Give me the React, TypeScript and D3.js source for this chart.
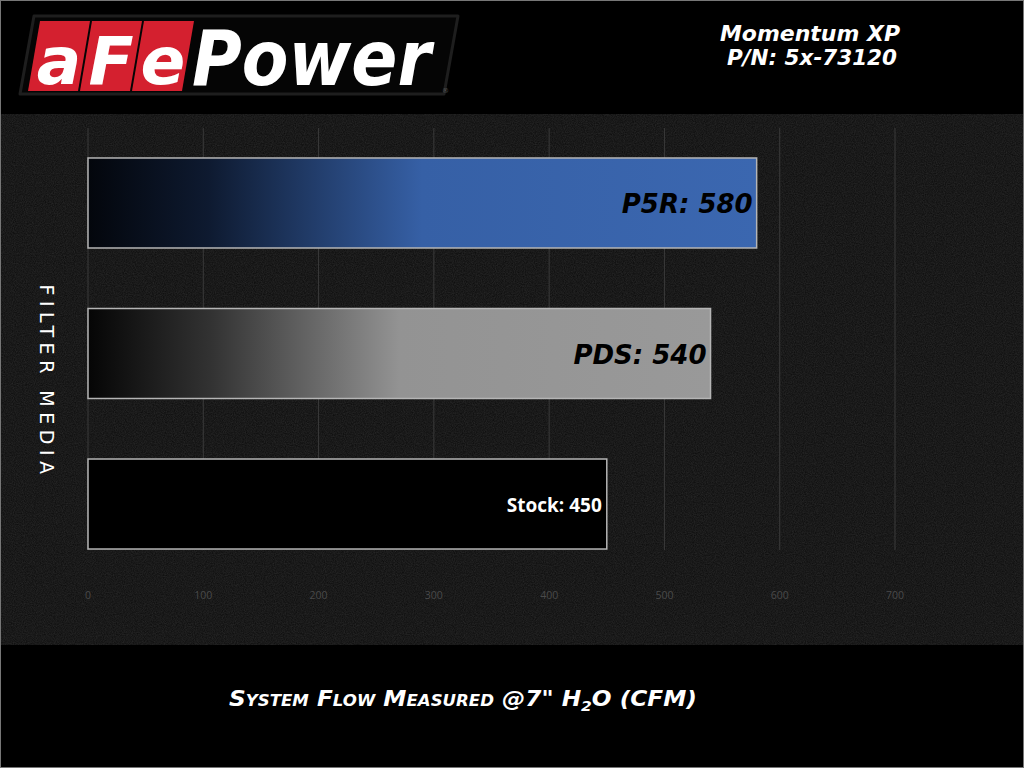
import React from "react";
import * as d3 from "d3";

const categories = ["P5R", "PDS", "Stock"];
const values = [580, 540, 450];
const barLabels = ["P5R: 580", "PDS: 540", "Stock: 450"];
const tickValues = [0, 100, 200, 300, 400, 500, 600, 700];
const titleLines = ["Momentum XP", "P/N: 5x-73120"];
const yTitle = "FILTER MEDIA";
const logoLetters = ["a", "F", "e"];

const W = 1024;
const H = 768;

export default function App() {
  const x = d3.scaleLinear().domain([0, 700]).range([88, 895]);
  const y = d3.scaleBand<string>().domain(categories).range([133, 574]).paddingInner(0.402).paddingOuter(0.166);
  const gridTop = 128;
  const gridBottom = 550;
  const fills = ["url(#gBlue)", "url(#gGrey)", "#000"];
  const titleFont = "'DejaVu Sans', sans-serif";

  const skew = (px: number, py: number, w: number, h: number, s: number) =>
    `M${px + s},${py} L${px + w + s},${py} L${px + w},${py + h} L${px},${py + h} Z`;

  return (
    <svg width={W} height={H} style={{ position: "absolute", left: 0, top: 0, display: "block" }}>
      <defs>
        <filter id="noise" x="0" y="0" width="100%" height="100%">
          <feTurbulence type="fractalNoise" baseFrequency="0.9" numOctaves="3" seed="3" result="n" />
          <feColorMatrix type="matrix" values="0 0 0 0 0.09  0 0 0 0 0.09  0 0 0 0 0.09  0 0 0 0.4 0" />
        </filter>
        <linearGradient id="gBlue" x1="0" x2="1" y1="0" y2="0">
          <stop offset="0" stopColor="#03060c" />
          <stop offset="0.18" stopColor="#0e1a30" />
          <stop offset="0.5" stopColor="#3660a6" />
          <stop offset="1" stopColor="#3b67b0" />
        </linearGradient>
        <linearGradient id="gGrey" x1="0" x2="1" y1="0" y2="0">
          <stop offset="0" stopColor="#050505" />
          <stop offset="0.2" stopColor="#333" />
          <stop offset="0.5" stopColor="#939393" />
          <stop offset="1" stopColor="#999" />
        </linearGradient>
      </defs>
      <rect x={0} y={0} width={W} height={H} fill="#000" />
      <rect x={0} y={114} width={W} height={531} fill="#0b0b0b" />
      <rect x={0} y={114} width={W} height={531} filter="url(#noise)" />
      <rect x={0.5} y={0.5} width={W - 1} height={H - 1} fill="none" stroke="#777" strokeWidth={1} />

      {/* Logo */}
      <g>
        <path d={skew(20, 16, 424, 78, 14)} fill="#050505" stroke="#1e1e1e" strokeWidth={3} strokeLinejoin="round" />
        {logoLetters.map((l, i) => (
          <g key={l}>
            <path d={skew(28 + i * 52, 21, 50, 70, 12)} fill="#d4202f" />
            <text x={59 + i * 52} y={84} textAnchor="middle" fill="#fff" fontFamily={titleFont} fontWeight="bold"
              fontStyle="italic" fontSize={66}>{l}</text>
          </g>
        ))}
        <g transform="translate(192,85) scale(1,1.12)">
          <text x={0} y={0} fill="#fff" fontFamily={titleFont} fontWeight="bold" fontStyle="italic" fontSize={68}>Power</text>
        </g>
        <text x={442} y={93} fill="#555" fontFamily="'DejaVu Sans', sans-serif" fontSize={7}>®</text>
      </g>

      {/* Header */}
      <text x={810} y={41} textAnchor="middle" fill="#fff" fontFamily={titleFont} fontWeight="bold" fontStyle="italic" fontSize={21}
        textLength={180} lengthAdjust="spacingAndGlyphs">{titleLines[0]}</text>
      <text x={812} y={65} textAnchor="middle" fill="#fff" fontFamily={titleFont} fontWeight="bold" fontStyle="italic" fontSize={21}
        textLength={170} lengthAdjust="spacingAndGlyphs">{titleLines[1]}</text>

      {/* Grid */}
      {tickValues.map((t) => (
        <line key={"g" + t} x1={x(t)} x2={x(t)} y1={gridTop} y2={gridBottom} stroke="#3a3a3a" strokeWidth={1} />
      ))}

      {/* Bars */}
      {categories.map((c, i) => (
        <g key={c}>
          <rect x={x(0)} y={y(c)!} width={x(values[i]) - x(0)} height={y.bandwidth()} fill={fills[i]}
            stroke="#b5b5b5" strokeWidth={1.5} />
          {i < 2 ? (
            <text x={x(values[i]) - 4} y={y(c)! + y.bandwidth() / 2 + 10} textAnchor="end" fill="#000"
              fontFamily={titleFont} fontWeight="bold" fontStyle="italic" fontSize={26}>{barLabels[i]}</text>
          ) : (
            <text x={x(values[i]) - 5} y={y(c)! + y.bandwidth() / 2 + 8} textAnchor="end" fill="#fff"
              fontFamily="'Open Sans', sans-serif" fontWeight="bold" fontSize={19}>{barLabels[i]}</text>
          )}
        </g>
      ))}

      {/* Tick labels */}
      {tickValues.map((t) => (
        <text key={"t" + t} x={x(t)} y={599} textAnchor="middle" fill="#4a4a4a"
          fontFamily="'Open Sans', sans-serif" fontSize={10.5}>{t}</text>
      ))}

      {/* Y title */}
      <text transform="translate(40,382) rotate(90)" textAnchor="middle" fill="#fff"
        fontFamily="'DejaVu Sans', sans-serif" fontSize={19} letterSpacing={5.5}>{yTitle}</text>

      {/* X title */}
      <text x={463} y={706} textAnchor="middle" fill="#fff" fontFamily={titleFont} fontWeight="bold" fontStyle="italic"
        fontSize={21} style={{ fontVariant: "small-caps" }} textLength={468} lengthAdjust="spacingAndGlyphs">
        System Flow Measured @7" H<tspan fontSize={14} dy={5}>2</tspan><tspan dy={-5}>O (CFM)</tspan>
      </text>
    </svg>
  );
}
